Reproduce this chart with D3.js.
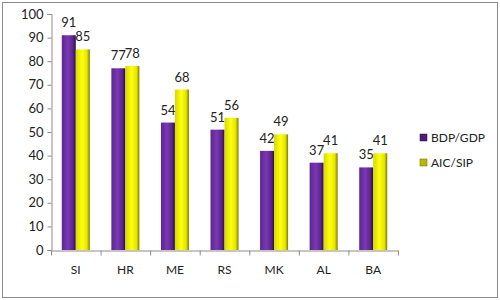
<!DOCTYPE html>
<html>
<head>
<meta charset="utf-8">
<script src="https://d3js.org/d3.v7.min.js"></script>
<style>
  body { margin: 0; background: white; }
  text { font-family: Lato, "Open Sans", sans-serif; fill: #222; }
</style>
</head>
<body>
<div id="chart"></div>
<script>
  // data
  var countries = ["SI", "HR", "ME", "RS", "MK", "AL", "BA"];
  var gdp = [91, 77, 54, 51, 42, 37, 35];
  var aic = [85, 78, 68, 56, 49, 41, 41];
  var seriesNames = ["BDP/GDP", "AIC/SIP"];
  var yTicks = [0, 10, 20, 30, 40, 50, 60, 70, 80, 90, 100];

  var W = 500, H = 300;
  var svg = d3.select("#chart").append("svg")
      .attr("width", W).attr("height", H);

  // gradients for the bars (light middle, dark right edge)
  var defs = svg.append("defs");
  function grad(id, stops) {
    var g = defs.append("linearGradient").attr("id", id)
      .attr("x1", "0%").attr("x2", "100%").attr("y1", "0%").attr("y2", "0%");
    stops.forEach(function(s) {
      g.append("stop").attr("offset", s[0]).attr("stop-color", s[1]);
    });
  }
  grad("gPurple", [["0%", "#5b2790"], ["45%", "#7a38b4"], ["80%", "#5a2588"], ["100%", "#2a0d45"]]);
  grad("gYellow", [["0%", "#d8d800"], ["45%", "#ffff10"], ["80%", "#e5e500"], ["100%", "#7a7a00"]]);
  var fills = ["url(#gPurple)", "url(#gYellow)"];

  // outer frame
  svg.append("rect")
    .attr("x", 2.5).attr("y", 2.5).attr("width", 495).attr("height", 295)
    .attr("fill", "none").attr("stroke", "#8c8c8c");

  var plotLeft = 51, plotRight = 398, plotTop = 14, plotBottom = 250;

  var x = d3.scaleBand().domain(countries).range([plotLeft, plotRight]).paddingInner(0).paddingOuter(0);
  var groupW = 28;
  var x1 = d3.scaleBand().domain([0, 1]).range([0, groupW]);
  var y = d3.scaleLinear().domain([0, 100]).range([plotBottom, plotTop]);

  // y axis
  var yAxis = svg.append("g")
    .attr("transform", "translate(" + (plotLeft + 0.5) + ",0)")
    .call(d3.axisLeft(y).tickValues(yTicks).tickSize(4).tickPadding(4));
  yAxis.selectAll("text").style("font-size", "13px");

  // x axis
  var xAxis = svg.append("g")
    .attr("transform", "translate(0," + (plotBottom + 0.5) + ")")
    .call(d3.axisBottom(x).tickSize(0).tickPadding(15));
  xAxis.selectAll("text").style("font-size", "12px");
  // tick marks between categories
  xAxis.selectAll(".sep")
    .data(countries.concat(["end"]))
    .enter().append("line")
      .attr("x1", function(d, i) { return plotLeft + i * x.bandwidth() + 0.5; })
      .attr("x2", function(d, i) { return plotLeft + i * x.bandwidth() + 0.5; })
      .attr("y1", 0).attr("y2", 5)
      .attr("stroke", "#8c8c8c");
  svg.selectAll(".domain, .tick line").attr("stroke", "#8c8c8c");

  var series = [gdp, aic];
  var off = (x.bandwidth() - groupW) / 2;

  series.forEach(function(vals, s) {
    svg.append("g").selectAll("rect")
      .data(vals)
      .enter().append("rect")
        .attr("x", function(d, i) { return x(countries[i]) + off + x1(s); })
        .attr("y", function(d) { return y(d); })
        .attr("width", x1.bandwidth())
        .attr("height", function(d) { return plotBottom - y(d); })
        .attr("fill", fills[s]);

    svg.append("g").selectAll("text")
      .data(vals)
      .enter().append("text")
        .attr("x", function(d, i) { return x(countries[i]) + off + x1(s) + x1.bandwidth() / 2; })
        .attr("y", function(d) { return y(d) - 8; })
        .attr("text-anchor", "middle")
        .style("font-size", "13px")
        .text(function(d) { return d; });
  });

  // legend
  var legend = svg.append("g").selectAll("g")
    .data(seriesNames)
    .enter().append("g")
      .attr("transform", function(d, i) { return "translate(420," + (134 + i * 25) + ")"; });
  legend.append("rect")
    .attr("width", 7).attr("height", 7)
    .attr("fill", function(d, i) { return i == 0 ? "#4a1f78" : "#b8b800"; })
    .attr("stroke", function(d, i) { return i == 0 ? "#2a0d45" : "#6a6a00"; })
    .attr("stroke-width", 0.5);
  legend.append("text")
    .attr("x", 11).attr("y", 7.5)
    .style("font-size", "12px")
    .text(function(d) { return d; });
</script>
</body>
</html>
